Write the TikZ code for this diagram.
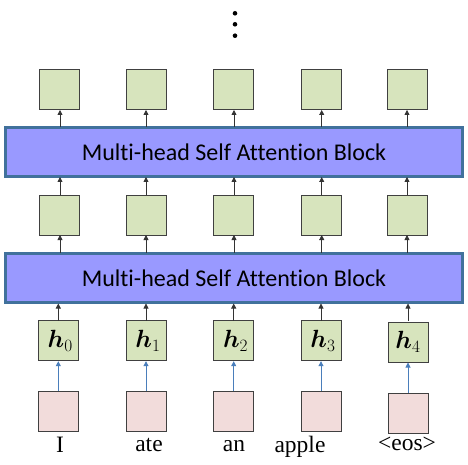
\documentclass[tikz,border=0pt]{standalone}
\usepackage{fontspec}
\usepackage{amsmath,bm}
\newfontfamily\calfont[Ligatures=NoCommon]{Carlito}
\newfontfamily\timesfont{Liberation Serif}
\usetikzlibrary{arrows.meta}
\definecolor{boxgreen}{HTML}{D7E4BD}
\definecolor{boxpink}{HTML}{F2DCDB}
\definecolor{blockfill}{HTML}{9999FF}
\definecolor{blockline}{HTML}{41719C}
\definecolor{bluearrow}{HTML}{4A7EBB}
\definecolor{boxline}{HTML}{404040}
\begin{document}
\begin{tikzpicture}[x=1pt,y=-1pt,
  gbox/.style={draw=boxline,line width=1pt,fill=boxgreen,minimum width=40pt,minimum height=40pt,inner sep=0pt},
  pbox/.style={draw=boxline,line width=1pt,fill=boxpink,minimum width=40pt,minimum height=40pt,inner sep=0pt},
  hbox/.style={gbox,font=\fontsize{23}{26}\selectfont},
  block/.style={draw=blockline,line width=2.5pt,fill=blockfill,minimum width=457pt,minimum height=49pt,inner sep=0pt,font=\calfont\fontsize{24}{28}\selectfont},
  blk/.style={-{Triangle[length=5pt,width=5pt]},line width=0.8pt,black!80},
  bla/.style={-{Triangle[length=5pt,width=5pt]},line width=0.9pt,bluearrow},
  word/.style={font=\timesfont\fontsize{23.5}{26}\selectfont,inner sep=0pt,anchor=base}
]
\useasboundingbox (0,0) rectangle (468,465);
% dots
\fill (235,13.3) circle (2.3pt);
\fill (235,24.3) circle (2.3pt);
\fill (235,35.7) circle (2.3pt);
% blocks
\node[block] (B2) at (234,152) {Multi-head Self Attention Block};
\node[block] (B1) at (234,278) {Multi-head Self Attention Block};
% columns
\foreach \i/\x in {0/59.5,1/146,2/233.5,3/321,4/407.5}{
  \node[gbox] (T\i) at (\x,90) {};
  \node[gbox] (M\i) at (\x,215) {};
}
\node[hbox] (H0) at (58.3,340.7) {\,$\bm{h}_0$};
\node[hbox] (H1) at (146,340.7) {\,$\bm{h}_1$};
\node[hbox] (H2) at (233.7,340.7) {\,$\bm{h}_2$};
\node[hbox] (H3) at (321,340.7) {\,$\bm{h}_3$};
\node[hbox] (H4) at (408,342) {$\bm{h}_4$};
\node[pbox] (P0) at (58.3,411.7) {};
\node[pbox] (P1) at (146,411.7) {};
\node[pbox] (P2) at (233.7,411.7) {};
\node[pbox] (P3) at (321,411.7) {};
\node[pbox] (P4) at (408,413) {};
% words
\node[word] (W0) at (60,452.3) {I};
\node[word] (W1) at (149,451.7) {ate};
\node[word] (W2) at (234,451.7) {an};
\node[word] (W3) at (300,452) {apple};
\node[word] (W4) at (407,450.7) {<eos>};
% arrows
\foreach \i/\x in {0/60,1/146,2/234,3/321.7,4/407}{
  \draw[blk] (\x,127) -- (\x,110);
  \draw[blk] (\x,195) -- (\x,177);
  \draw[blk] (\x,252.5) -- (\x,235);
}
\foreach \i in {0,...,4}{
  \draw[blk] (H\i.north |- 0,303.5) ++(0,17) -- (H\i.north |- 0,303.5);
  \draw[bla] (P\i.north) -- (H\i.south);
}
\end{tikzpicture}
\end{document}
